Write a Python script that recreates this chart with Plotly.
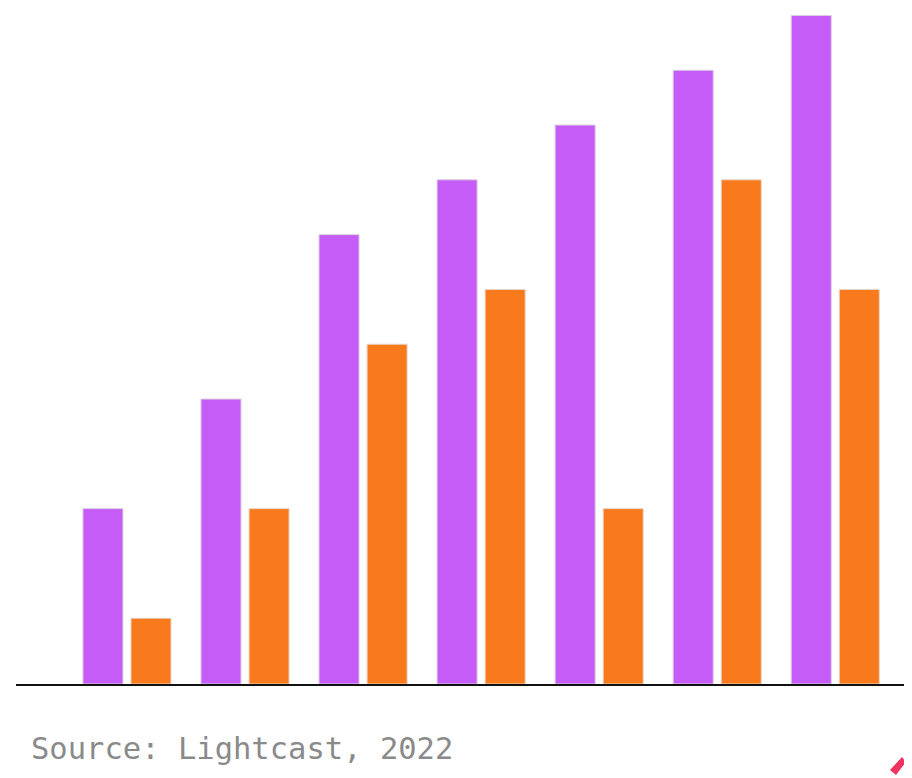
import plotly.graph_objects as go

categories = ["A", "B", "C", "D", "E", "F", "G"]
purple_values = [3.2, 5.2, 8.2, 9.2, 10.2, 11.2, 12.2]
orange_values = [1.2, 3.2, 6.2, 7.2, 3.2, 9.2, 7.2]
source_text = "Source: Lightcast, 2022"

# the page body has an 8px margin; figure coordinates are page coordinates minus 8
OFF = 8
W, H = 912 - OFF, 778 - OFF
BASE = 684 - OFF  # baseline in figure pixels
ML, MR, MT, MB = 16 - OFF, 0, 0, H - BASE

fig = go.Figure()
fig.add_trace(go.Bar(x=categories, y=purple_values, marker=dict(color="#C65CF7", line=dict(color="#d9d0dd", width=1)), name="Series 1"))
fig.add_trace(go.Bar(x=categories, y=orange_values, marker=dict(color="#F97A1D", line=dict(color="#e8d6c8", width=1)), name="Series 2"))

PW = W - ML - MR

def px(x_page):
    return (x_page - OFF - ML) / PW

def py(y_page):
    return (BASE - (y_page - OFF)) / BASE

fig.update_layout(
    width=W, height=H,
    margin=dict(l=ML, r=MR, t=MT, b=MB),
    paper_bgcolor="white", plot_bgcolor="white",
    barmode="group", bargap=0.186, bargroupgap=0.1667,
    showlegend=False,
    xaxis=dict(range=[-0.94, 6.65], showticklabels=False, showgrid=False, zeroline=False,
               showline=True, linecolor="#111111", linewidth=2, ticks=""),
    yaxis=dict(range=[0, BASE / 54.8], showticklabels=False, showgrid=False, zeroline=False, showline=False),
    annotations=[dict(text=source_text, xref="paper", yref="paper", x=px(29),
                      y=py(748), xanchor="left", yanchor="middle", showarrow=False,
                      font=dict(family="DejaVu Sans Mono", size=30.5, color="#8a8a8a"))],
)

# partial logo at bottom-right corner
logo = "M {},{} L {},{} L {},{} L {},{} Z".format(px(890), py(770), px(902), py(757), px(906), py(762), px(896), py(775))
logo2 = "M {},{} L {},{} L {},{} L {},{} Z".format(px(905), py(765), px(905), py(752), px(912), py(744), px(912), py(770))
for p in (logo, logo2):
    fig.add_shape(type="path", path=p, xref="paper", yref="paper", fillcolor="#EE3560", line=dict(width=0))

fig.write_html("out.html")
